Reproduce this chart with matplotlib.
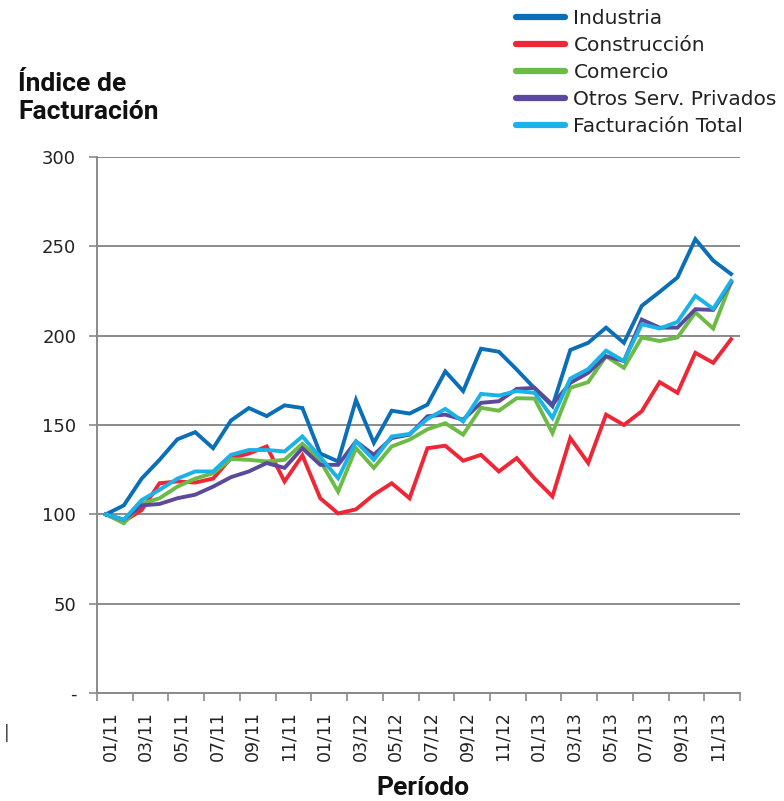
import numpy as np
import matplotlib
matplotlib.use("Agg")
import matplotlib.pyplot as plt
import matplotlib.transforms as mtransforms
from matplotlib import font_manager
from matplotlib.ticker import FixedLocator, NullFormatter, FixedFormatter

# monthly index, 01/2011 .. 12/2013 (base 01/11 = 100)
industria = [100, 105, 120, 130.5, 142, 146, 137, 152.5, 159.5, 155, 161, 159.5,
             134, 129.6, 164, 140, 158, 156.4, 161.4, 180, 169, 192.7, 191, 181,
             170.5, 160.5, 192, 196, 204.5, 196, 216.7, 224.5, 232.6, 254, 242, 234.5]
construccion = [100, 96, 102.4, 117.4, 118.4, 117.8, 120, 131.5, 134, 138, 118.4, 133,
                109, 100.5, 102.8, 111, 117.4, 109, 137, 138.4, 130, 133.3, 124, 131.5,
                120, 110, 142.7, 128.7, 155.8, 150, 157.7, 174, 168, 190.4, 184.8, 198]
comercio = [100, 95, 106, 109, 115.5, 120, 123, 131, 130.5, 129.6, 130.5, 139.5,
            130, 112.7, 137, 126, 138, 141.8, 147.6, 151, 144.6, 159.6, 158, 165,
            164.8, 145.5, 170.8, 174, 188.5, 182, 199, 197, 199, 213, 204, 229.8]
otros_serv = [100, 97, 105, 105.8, 109, 111, 115.5, 120.8, 124, 128.7, 126, 137,
              127.7, 127.7, 140.8, 133.3, 142.7, 144.6, 154.9, 155.8, 153, 162.4, 163.3, 170.2,
              170.8, 161.4, 173.6, 179.2, 188.5, 185.8, 209, 204.5, 204.5, 214.8, 214.4, 229.8]
fact_total = [100, 97, 108, 113.7, 120, 124, 124, 133.3, 136, 136, 135.2, 143.6,
              132, 120.2, 140.8, 130.5, 143.6, 145, 153.4, 159, 152, 167.4, 166.5, 169,
              168, 154, 176, 181.3, 191.6, 185.8, 206.4, 204, 207.7, 222.3, 215, 230.7]

series_names = ["Industria", "Construcción", "Comercio", "Otros Serv. Privados", "Facturación Total"]
series_colors = ["#0A6FB7", "#EE2737", "#6CBB47", "#5B4A9B", "#19B3E8"]

# labels as printed in the source (second "01/11" is really January 2012)
tick_labels = ["01/11", "03/11", "05/11", "07/11", "09/11", "11/11",
               "01/11", "03/12", "05/12", "07/12", "09/12", "11/12",
               "01/13", "03/13", "05/13", "07/13", "09/13", "11/13"]
y_ticks = [0, 50, 100, 150, 200, 250, 300]
y_labels = ["-", "50", "100", "150", "200", "250", "300"]


def pick_font(candidates):
    installed = {f.name for f in font_manager.fontManager.ttflist}
    for name in candidates:
        if name in installed:
            return name
    return "DejaVu Sans"


bold_font = pick_font(["Roboto", "Lato", "DejaVu Sans"])
plt.rcParams["font.family"] = ["DejaVu Sans"]

grey = "#8a8a8a"
fig = plt.figure(figsize=(7.84, 8.01), dpi=100)
ax = fig.add_axes([97 / 784, 1 - 693 / 801, 643 / 784, 536 / 801])

months = np.arange(len(industria)) + 0.5
all_series = [industria, construccion, comercio, otros_serv, fact_total]
for vals, name, col in zip(all_series, series_names, series_colors):
    ax.plot(months, vals, color=col, lw=2.8, label=name, solid_joinstyle="miter")

ax.set_xlim(0, 36)
ax.set_ylim(0, 300)

# major ticks on category boundaries, labels centred on the months
ax.xaxis.set_major_locator(FixedLocator(np.arange(0, 37, 2)))
ax.xaxis.set_major_formatter(NullFormatter())
ax.xaxis.set_minor_locator(FixedLocator(np.arange(0, 36, 2) + 0.5))
ax.xaxis.set_minor_formatter(FixedFormatter(tick_labels))
ax.tick_params(axis="x", which="major", length=6, width=1.2, color=grey, direction="out")
ax.tick_params(axis="x", which="minor", length=0, pad=13, labelsize=12.5,
               labelrotation=90, labelcolor="#222222")
shift = mtransforms.ScaledTranslation(4 / 100, 0, fig.dpi_scale_trans)
for lab in ax.xaxis.get_minorticklabels():
    lab.set_transform(lab.get_transform() + shift)

ax.set_yticks(y_ticks)
ax.set_yticklabels(y_labels)
ax.tick_params(axis="y", length=6, width=1.2, color=grey, pad=9, labelsize=13,
               labelcolor="#222222")

ax.yaxis.grid(True, color=grey, lw=1.4)
ax.set_axisbelow(True)
for s in ["top", "right"]:
    ax.spines[s].set_visible(False)
for s in ["left", "bottom"]:
    ax.spines[s].set_color(grey)
    ax.spines[s].set_linewidth(1.4)

fig.text(18 / 784, 1 - 72 / 801, "Índice de\nFacturación", fontsize=19, fontweight="bold",
         family=[bold_font, "DejaVu Sans"], va="top", ha="left", linespacing=1.22, color="#111111")
fig.text(423 / 784, 1 - 800 / 801, "Período", fontsize=19, fontweight="bold",
         family=[bold_font, "DejaVu Sans"], va="bottom", ha="center", color="#111111")
fig.text(4 / 784, 1 - 733 / 801, "|", fontsize=12, color="#333333", va="center", ha="left")

leg = fig.legend(loc="upper left", bbox_to_anchor=(516 / 784, 1 - 9 / 801), frameon=False,
                 fontsize=14.5, handlelength=2.45, handletextpad=0.4, labelspacing=0.4,
                 borderaxespad=0, borderpad=0)
for line in leg.get_lines():
    line.set_linewidth(4.5)
    line.set_solid_capstyle("round")
for t in leg.get_texts():
    t.set_color("#222222")

fig.savefig("out.png", dpi=100)
